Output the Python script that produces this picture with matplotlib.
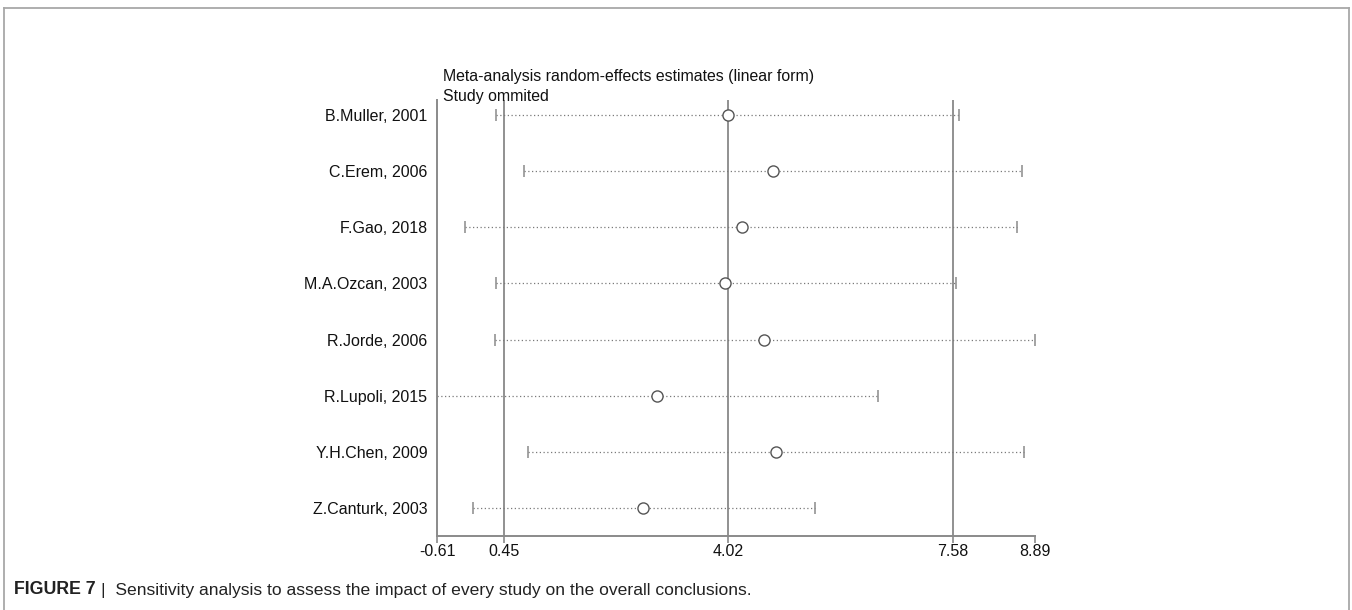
import matplotlib
matplotlib.use("Agg")
import matplotlib.pyplot as plt
from matplotlib.lines import Line2D

studies = ["B.Muller, 2001", "C.Erem, 2006", "F.Gao, 2018", "M.A.Ozcan, 2003",
           "R.Jorde, 2006", "R.Lupoli, 2015", "Y.H.Chen, 2009", "Z.Canturk, 2003"]
estimate = [4.01, 4.73, 4.23, 3.97, 4.58, 2.88, 4.78, 2.67]
lower = [0.33, 0.77, -0.16, 0.33, 0.31, -0.61, 0.84, -0.04]
upper = [7.69, 8.68, 8.61, 7.63, 8.89, 6.40, 8.72, 5.39]
ref_lines = [0.45, 4.02, 7.58]
xticks = [-0.61, 0.45, 4.02, 7.58, 8.89]
xticklabels = ["-0.61", "0.45", "4.02", "7.58", "8.89"]

plt.rcParams['font.family'] = ['Liberation Sans', 'DejaVu Sans']

W, H = 1352, 610
fig = plt.figure(figsize=(W / 100, H / 100), dpi=100)
ax = fig.add_axes([437 / W, 1 - 536 / H, (1035 - 437) / W, (536 - 100) / H])

n = len(studies)
ys = [n - i for i in range(n)]

for xv in ref_lines:
    ax.axvline(xv, color="#909090", lw=1.4, zorder=1)

for y, lo, est, hi in zip(ys, lower, estimate, upper):
    ax.plot([lo, hi], [y, y], color="#7a7a7a", lw=0.9, ls=(0, (1, 2)), zorder=2)
    ax.plot([lo, hi], [y, y], ls="none", marker="|", ms=8, mew=1.1, color="#8a8a8a", zorder=3)
    ax.plot([est], [y], ls="none", marker="o", ms=8, mfc="white", mec="#555555", mew=1.0, zorder=4)

ax.set_xlim(-0.61, 8.89)
ax.set_ylim(0.5, 8.27)
ax.set_yticks(ys)
ax.set_yticklabels(studies, fontsize=11.5, color="#111111")
ax.tick_params(axis="y", length=0, pad=7)
ax.set_xticks(xticks)
ax.set_xticklabels(xticklabels, fontsize=11.5, color="#111111")
ax.tick_params(axis="x", length=5, width=1.2, color="#8a8a8a", pad=1)
for s in ["top", "right"]:
    ax.spines[s].set_visible(False)
for s in ["left", "bottom"]:
    ax.spines[s].set_color("#8a8a8a")
    ax.spines[s].set_linewidth(1.4)

fig.text(443 / W, 1 - 76 / H, "Meta-analysis random-effects estimates (linear form)",
         fontsize=11.4, va="center", ha="left", color="#111111")
fig.text(443 / W, 1 - 96 / H, "Study ommited",
         fontsize=11.4, va="center", ha="left", color="#111111")

# frame
fc = "#a8a8a8"
fig.add_artist(Line2D([4 / W, 4 / W], [0, 1 - 8 / H], color=fc, lw=1.3, transform=fig.transFigure))
fig.add_artist(Line2D([4 / W, 1349 / W], [1 - 8 / H, 1 - 8 / H], color=fc, lw=1.3, transform=fig.transFigure))
fig.add_artist(Line2D([1349 / W, 1349 / W], [0, 1 - 8 / H], color=fc, lw=1.3, transform=fig.transFigure))

# caption
cap_fam = ['Liberation Sans Narrow', 'Liberation Sans', 'DejaVu Sans']
t1 = fig.text(14 / W, 1 - 590 / H, "FIGURE 7", fontsize=12.8, fontweight="bold",
              family=cap_fam, va="center", ha="left", color="#222222")
fig.canvas.draw()
bb = t1.get_window_extent()
fig.text((bb.x1 + 5) / W, 1 - 590 / H,
         "|  Sensitivity analysis to assess the impact of every study on the overall conclusions.",
         fontsize=12.6, family=cap_fam, va="center", ha="left", color="#222222")

fig.savefig("out.png", dpi=100)
